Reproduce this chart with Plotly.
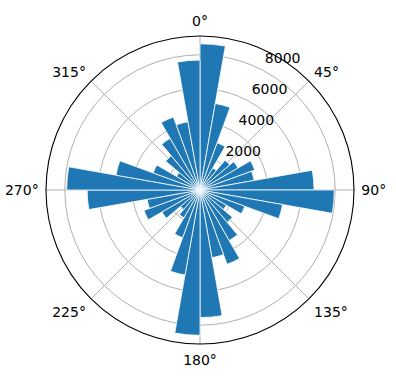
import plotly.graph_objects as go

# bar centres (degrees, clockwise from north) and radial values
angles = [5 + 10 * k for k in range(36)]
values = [
    8650, 5200, 2970, 1500, 2300, 2600, 3450, 3250, 6750,   # 0-90
    7950, 4960, 2820, 1800, 2500, 3450, 4680, 4070, 7550,   # 90-180
    8600, 5110, 3000, 1900, 1500, 2600, 3530, 3180, 6680,   # 180-270
    7890, 5050, 2950, 1600, 2650, 3530, 4600, 4100, 7690,   # 270-360
]
radial_ticks = [2000, 4000, 6000, 8000]
angular_ticks = [0, 45, 90, 135, 180, 225, 270, 315]
r_max = 9114
label_shift = 810  # outward offset of the radial tick labels (matplotlib-style padding)

fig = go.Figure()
fig.add_trace(
    go.Barpolar(
        theta=angles,
        r=values,
        width=[10] * len(angles),
        marker=dict(color="#1f77b4", line=dict(color="white", width=0.8)),
        subplot="polar",
    )
)
# empty trace so that the label-only overlay subplot is drawn
fig.add_trace(go.Barpolar(theta=[], r=[], subplot="polar2", hoverinfo="skip"))

full_domain = dict(x=[0, 1], y=[0, 1])

fig.update_layout(
    width=396,
    height=380,
    margin=dict(l=46, r=42, t=36, b=36),
    paper_bgcolor="white",
    showlegend=False,
    font=dict(family="DejaVu Sans", size=14, color="black"),
    polar=dict(
        domain=full_domain,
        bgcolor="white",
        bargap=0,
        angularaxis=dict(
            rotation=90,
            direction="clockwise",
            tickmode="array",
            tickvals=angular_ticks,
            ticktext=[f"{a}°" for a in angular_ticks],
            showline=True,
            linecolor="black",
            linewidth=1.1,
            gridcolor="#b0b0b0",
            gridwidth=1.1,
            ticks="outside",
            ticklen=4,
            tickcolor="rgba(0,0,0,0)",
            tickfont=dict(size=14),
        ),
        radialaxis=dict(
            range=[0, r_max],
            tickmode="array",
            tickvals=radial_ticks,
            showticklabels=False,
            showline=False,
            gridcolor="#b0b0b0",
            gridwidth=1.1,
            ticks="",
            angle=67.5,
        ),
    ),
    polar2=dict(
        domain=full_domain,
        bgcolor="rgba(0,0,0,0)",
        angularaxis=dict(
            visible=False,
            rotation=90,
            direction="clockwise",
        ),
        radialaxis=dict(
            range=[0, r_max],
            tickmode="array",
            tickvals=[t + label_shift for t in radial_ticks],
            ticktext=[str(t) for t in radial_ticks],
            showgrid=False,
            showline=False,
            ticks="",
            side="clockwise",
            angle=67.1,
            tickangle=67.1,
            tickfont=dict(size=14),
        ),
    ),
)

fig.write_html("out.html")
